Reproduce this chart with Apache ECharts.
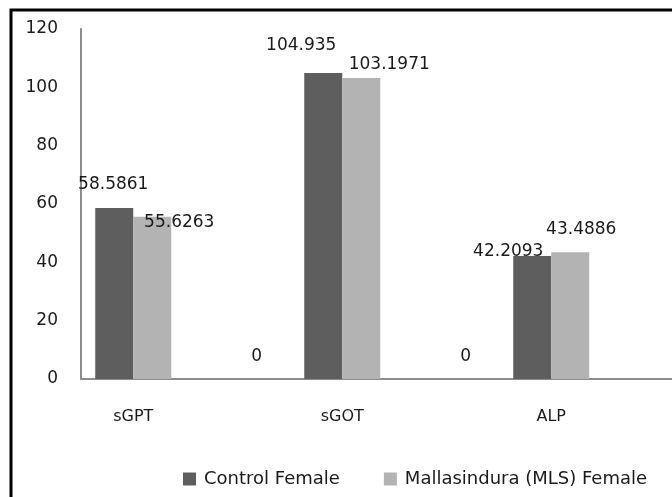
<!DOCTYPE html>
<html>
<head>
<meta charset="utf-8">
<script src="https://cdn.jsdelivr.net/npm/echarts@6/dist/echarts.min.js"></script>
<style>
html,body{margin:0;padding:0;background:#fff;overflow:hidden;width:672px;height:497px;}
#chart{width:720px;height:497px;}
</style>
</head>
<body>
<div id="chart"></div>
<script>
// Data
var categories = ['sGPT', '', 'sGOT', '', 'ALP', ''];
var seriesNames = ['Control Female', 'Mallasindura (MLS) Female'];
var controlFemale = [58.5861, null, 104.935, null, 42.2093, null];
var mlsFemale = [55.6263, 0, 103.1971, 0, 43.4886, null];
var yTicks = [0, 20, 40, 60, 80, 100, 120];

// Label placement (style only)
var controlLabelOffsets = [[-1, -15], [0, 0], [-22, -19], [0, 0], [-24, 4], [0, 0]];
var mlsLabelOffsets = [[27, 14], [0, -14], [28, -5], [0, -14], [11, -14], [0, -14]];

var FONT = 'DejaVu Sans';
var TEXT = '#1a1a1a';

function buildData(values, offsets) {
  return values.map(function (v, i) {
    return {
      value: v,
      label: { offset: offsets[i] }
    };
  });
}

function fmt(p) { return p.value == null ? '' : String(p.value); }

var chart = echarts.init(document.getElementById('chart'), null, { renderer: 'canvas' });
chart.setOption({
  backgroundColor: '#ffffff',
  animation: false,
  graphic: [{
    type: 'rect',
    shape: { x: 11, y: 10, width: 760, height: 600 },
    style: { fill: 'none', stroke: '#000000', lineWidth: 3 },
    silent: true
  }],
  grid: { left: 81, width: 627, top: 29, height: 350, containLabel: false },
  legend: {
    data: seriesNames,
    left: 183,
    top: 470,
    padding: 0,
    itemWidth: 13,
    itemHeight: 13,
    itemGap: 44,
    icon: 'rect',
    textStyle: { fontFamily: FONT, fontSize: 18, color: TEXT, padding: [0, 0, 0, 3] }
  },
  xAxis: {
    type: 'category',
    data: categories,
    axisLine: { show: true, lineStyle: { color: '#8c8c8c', width: 2 } },
    axisTick: { show: false },
    axisLabel: { interval: 0, margin: 30, fontFamily: FONT, fontSize: 16, color: TEXT },
    splitLine: { show: false }
  },
  yAxis: {
    type: 'value',
    min: yTicks[0],
    max: yTicks[yTicks.length - 1],
    interval: 20,
    axisLine: { show: true, lineStyle: { color: '#8c8c8c', width: 2 } },
    axisTick: { show: false },
    axisLabel: { margin: 23, fontFamily: FONT, fontSize: 17, color: TEXT },
    splitLine: { show: false }
  },
  series: [{
    name: seriesNames[0],
    type: 'bar',
    barWidth: 38,
    barGap: '0%',
    itemStyle: { color: '#5e5e5e' },
    label: {
      show: true, position: 'top', distance: 0,
      fontFamily: FONT, fontSize: 17, color: TEXT,
      formatter: fmt
    },
    data: buildData(controlFemale, controlLabelOffsets)
  }, {
    name: seriesNames[1],
    type: 'bar',
    barWidth: 38,
    barGap: '0%',
    itemStyle: { color: '#b3b3b3' },
    label: {
      show: true, position: 'top', distance: 0,
      fontFamily: FONT, fontSize: 17, color: TEXT,
      formatter: fmt
    },
    data: buildData(mlsFemale, mlsLabelOffsets)
  }]
});
</script>
</body>
</html>
